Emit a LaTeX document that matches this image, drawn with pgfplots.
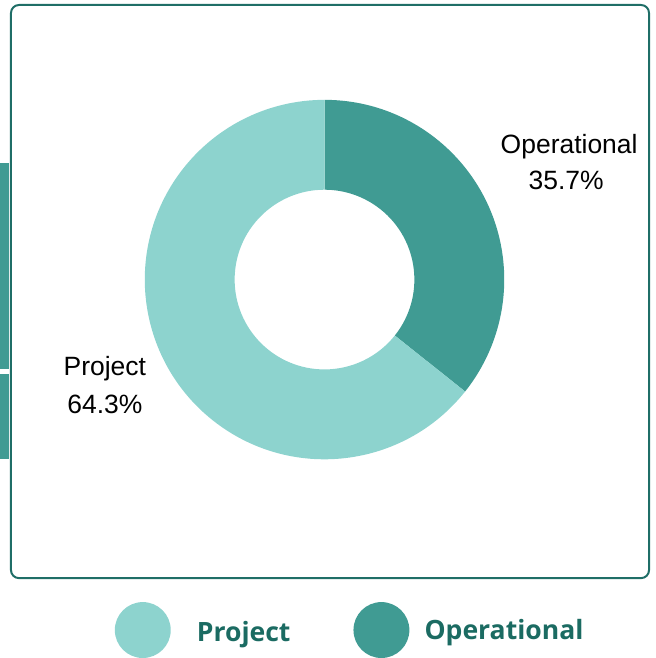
\documentclass[border=0pt]{standalone}
\usepackage{pgfplots}
\pgfplotsset{compat=1.18}
\usepackage{pgfplotstable}
\usepackage{fontspec}
\setmainfont{Liberation Sans}
\newfontfamily\legendfont{Open Sans}
\definecolor{projcol}{HTML}{8DD3CE}
\definecolor{opcol}{HTML}{409B93}
\definecolor{bordercol}{HTML}{1F6E67}
\definecolor{legtext}{HTML}{1B6B62}
\pgfplotstableread{
label value
Project 64.3
Operational 35.7
}\datatable
\begin{document}
\begin{tikzpicture}
\pgfplotstablegetelem{0}{value}\of\datatable \let\vProj\pgfplotsretval
\pgfplotstablegetelem{1}{value}\of\datatable \let\vOp\pgfplotsretval
\pgfmathsetmacro{\aStart}{90}
\pgfmathsetmacro{\aMid}{90-3.6*\vOp}
\pgfmathsetmacro{\aEnd}{\aMid-3.6*\vProj}
\begin{axis}[x=1pt,y=1pt,xmin=0,xmax=656,ymin=0,ymax=658,
  hide axis, scale only axis, clip=false]
\path (axis cs:0,0) rectangle (axis cs:656,658);
% left edge decorations
\fill[opcol] (axis cs:0,495) rectangle (axis cs:9,288);
\fill[opcol] (axis cs:0,283) rectangle (axis cs:9,198);
% border
\draw[bordercol, line width=2pt, rounded corners=8pt] (axis cs:11,653) rectangle (axis cs:650,79);
% donut
\begin{scope}[shift={(axis cs:325,378)}]
\fill[opcol] (\aStart:180pt) arc[start angle=\aStart, end angle=\aMid, radius=180pt]
   -- (\aMid:90pt) arc[start angle=\aMid, end angle=\aStart, radius=90pt] -- cycle;
\fill[projcol] (\aMid:180pt) arc[start angle=\aMid, end angle=\aEnd, radius=180pt]
   -- (\aEnd:90pt) arc[start angle=\aEnd, end angle=\aMid, radius=90pt] -- cycle;
\end{scope}
% data labels
\node[anchor=base, font=\fontsize{26.5}{30}\selectfont] at (axis cs:570,504) {Operational};
\node[anchor=base, font=\fontsize{26.5}{30}\selectfont] at (axis cs:567,468) {\pgfmathprintnumber[fixed,precision=1,fixed zerofill,assume math mode=true]{\vOp}\%};
\node[anchor=base, font=\fontsize{26.5}{30}\selectfont] at (axis cs:105,282) {Project};
\node[anchor=base, font=\fontsize{26.5}{30}\selectfont] at (axis cs:105,244) {\pgfmathprintnumber[fixed,precision=1,fixed zerofill,assume math mode=true]{\vProj}\%};
% legend
\fill[projcol] (axis cs:143,27) circle[radius=28pt];
\fill[opcol] (axis cs:382,27) circle[radius=28pt];
\node[anchor=base west, inner sep=0pt, text=legtext, font=\legendfont\bfseries\fontsize{26.6}{30}\selectfont] at (axis cs:197,16) {Project};
\node[anchor=base west, inner sep=0pt, text=legtext, font=\legendfont\bfseries\fontsize{26.6}{30}\selectfont] at (axis cs:425,18) {Operational};
\end{axis}
\end{tikzpicture}
\end{document}
